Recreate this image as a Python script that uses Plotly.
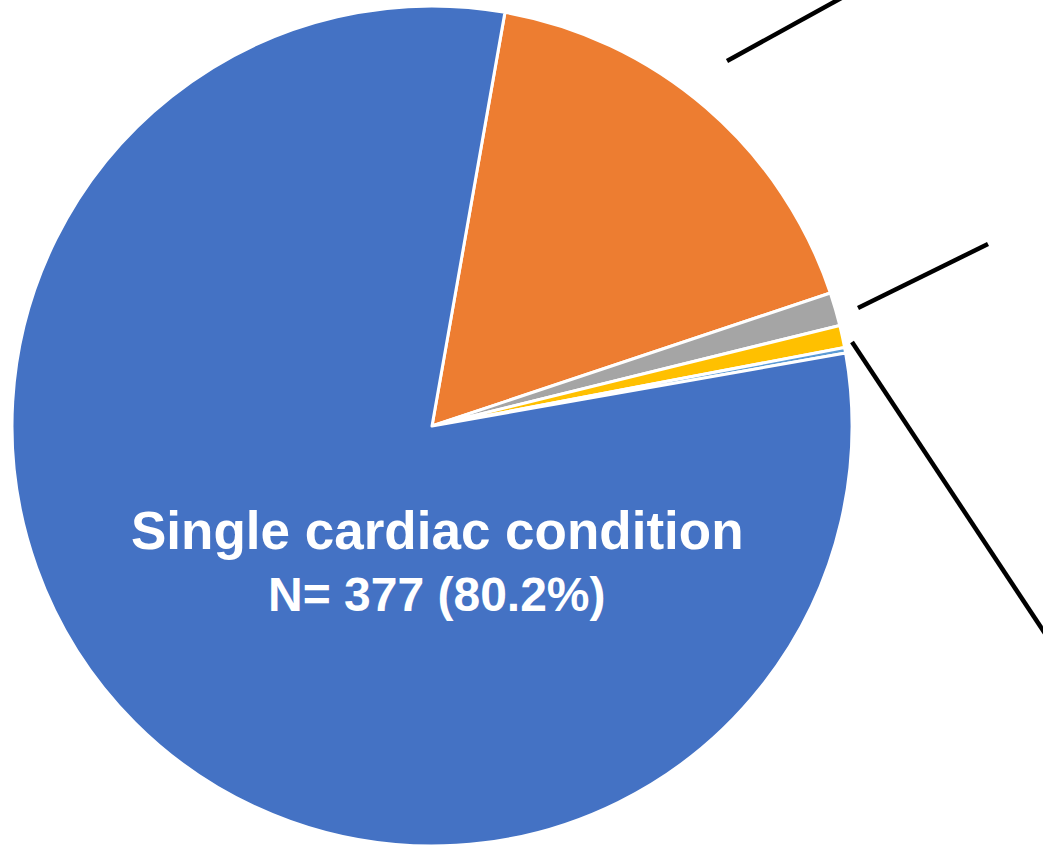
import plotly.graph_objects as go

# Data
labels = ["Two cardiac conditions", "Three cardiac conditions", "Four cardiac conditions",
          "Five or more cardiac conditions", "Single cardiac condition"]
values = [80, 6, 4, 1, 377]
colors = ["#ED7D31", "#A5A5A5", "#FFC000", "#5B9BD5", "#4472C4"]

W, H = 1043, 846
L, T, R, B = 12, 6, 0, 0
pw, ph = W - L - R, H - T - B

def px(x):
    return (x - L) / pw

def py(y):
    return 1 - (y - T) / ph

fig = go.Figure(go.Pie(
    labels=labels,
    values=values,
    sort=False,
    direction="clockwise",
    rotation=10,
    marker=dict(colors=colors, line=dict(color="white", width=3)),
    textinfo="none",
    hoverinfo="label+value+percent",
    domain=dict(x=[0, 840 / pw], y=[0, 1]),
    showlegend=False,
))

font_family = "Arial, Liberation Sans, sans-serif"
fig.add_annotation(x=px(437), y=py(530), xref="paper", yref="paper",
                   text="<b>Single cardiac condition</b>", showarrow=False,
                   xanchor="center", yanchor="middle",
                   font=dict(family=font_family, size=53, color="white"))
fig.add_annotation(x=px(437), y=py(594), xref="paper", yref="paper",
                   text="<b>N= 377 (80.2%)</b>", showarrow=False,
                   xanchor="center", yanchor="middle",
                   font=dict(family=font_family, size=48, color="white"))

# leader lines toward labels outside the visible area
leaders = [((727, 61), (874, -20)), ((858, 308), (988, 244)), ((852, 342), (1060, 656))]
for (x0, y0), (x1, y1) in leaders:
    fig.add_shape(type="line", xref="paper", yref="paper",
                  x0=px(x0), y0=py(y0), x1=px(x1), y1=py(y1),
                  line=dict(color="black", width=4.5))

fig.update_layout(width=W, height=H, margin=dict(l=L, r=R, t=T, b=B),
                  paper_bgcolor="white", plot_bgcolor="white")
fig.write_html("out.html", config={"displayModeBar": False},
               post_script="document.body.style.margin='0';")
